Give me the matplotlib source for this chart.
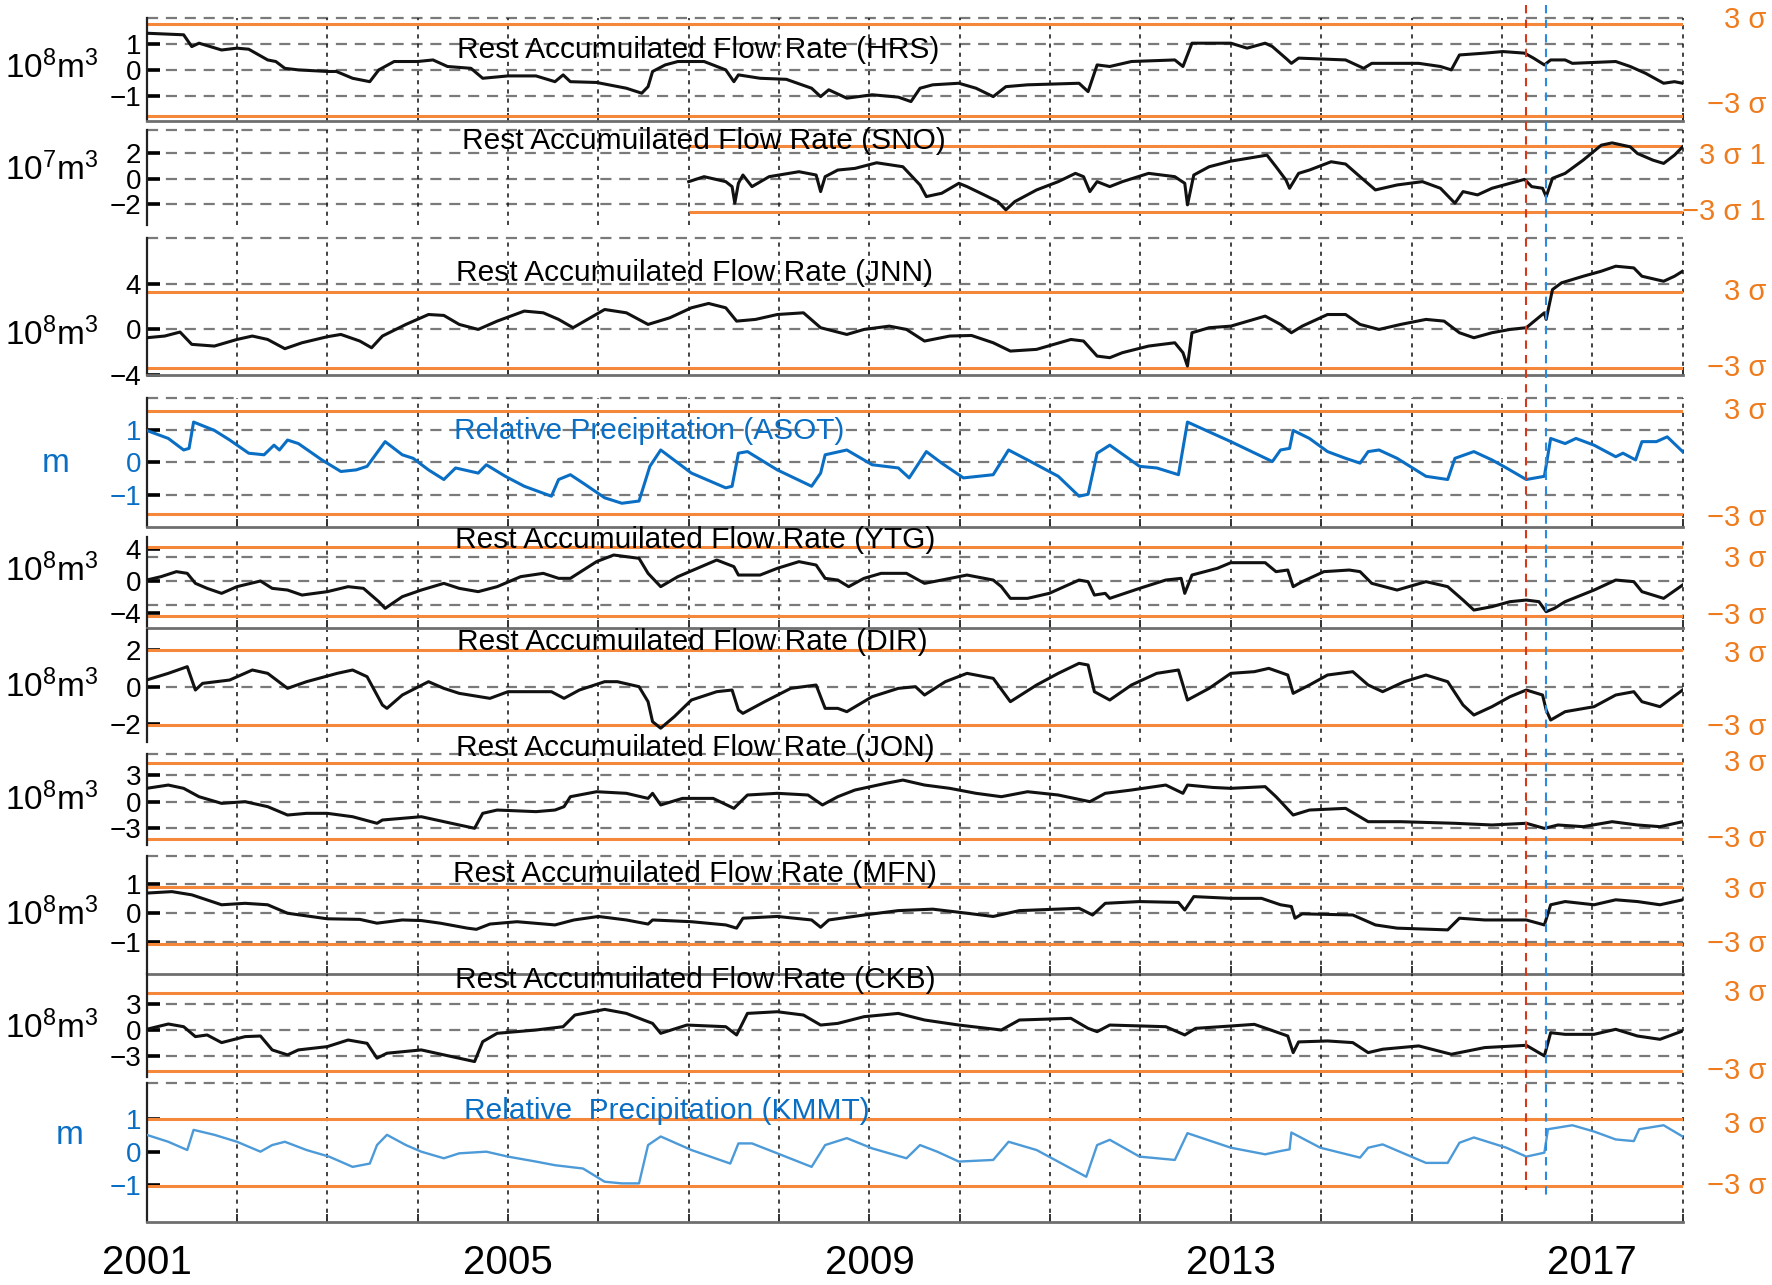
import matplotlib.pyplot as plt
from matplotlib.lines import Line2D
from matplotlib.transforms import blended_transform_factory as blend

plt.rcParams['font.family'] = ['Liberation Sans', 'DejaVu Sans']

# ---------------- data (decimal year, value) ----------------
hrs_t = [2001.0, 2001.41, 2001.5, 2001.58, 2001.83, 2002.0, 2002.13, 2002.34, 2002.43, 2002.53, 2002.68,
         2003.0, 2003.1, 2003.28, 2003.47, 2003.57, 2003.74, 2004.0, 2004.17, 2004.33, 2004.59, 2004.72,
         2005.0, 2005.31, 2005.52, 2005.61, 2005.69, 2005.98, 2006.31, 2006.48, 2006.55, 2006.6, 2006.74,
         2006.88, 2007.17, 2007.41, 2007.5, 2007.55, 2007.79, 2008.08, 2008.36, 2008.46, 2008.55, 2008.75,
         2009.03, 2009.32, 2009.46, 2009.56, 2009.7, 2009.99, 2010.18, 2010.37, 2010.51, 2010.75, 2011.32,
         2011.42, 2011.52, 2011.66, 2011.9, 2012.38, 2012.47, 2012.57, 2013.0, 2013.18, 2013.38, 2013.46,
         2013.63, 2013.67, 2013.75, 2014.27, 2014.47, 2014.56, 2015.08, 2015.32, 2015.44, 2015.53, 2015.81,
         2016.01, 2016.25, 2016.35, 2016.47, 2016.54, 2016.7, 2016.78, 2017.26, 2017.42, 2017.59, 2017.79,
         2017.91, 2018.0]
hrs_v = [1.40, 1.34, 0.89, 1.02, 0.76, 0.83, 0.79, 0.38, 0.32, 0.06, 0.0,
         -0.06, -0.06, -0.32, -0.45, 0.0, 0.32, 0.32, 0.38, 0.13, 0.06, -0.32,
         -0.23, -0.23, -0.45, -0.19, -0.45, -0.48, -0.70, -0.89, -0.64, -0.06, 0.19,
         0.32, 0.32, 0.0, -0.45, -0.19, -0.32, -0.36, -0.70, -1.02, -0.76, -1.08,
         -0.95, -1.04, -1.21, -0.70, -0.57, -0.51, -0.70, -1.02, -0.64, -0.57, -0.51,
         -0.83, 0.19, 0.13, 0.32, 0.38, 0.13, 1.02, 1.02, 0.83, 1.02, 0.89,
         0.38, 0.25, 0.45, 0.38, 0.06, 0.25, 0.25, 0.13, 0.0, 0.57, 0.64,
         0.70, 0.64, 0.45, 0.19, 0.38, 0.38, 0.25, 0.32, 0.13, -0.13, -0.51,
         -0.45, -0.51]

sno_t = [2007.0, 2007.17, 2007.41, 2007.48, 2007.51, 2007.55, 2007.6, 2007.7, 2007.89, 2008.22, 2008.41,
         2008.46, 2008.51, 2008.65, 2008.84, 2009.08, 2009.37, 2009.56, 2009.63, 2009.8, 2009.99, 2010.08,
         2010.27, 2010.42, 2010.51, 2010.61, 2010.85, 2011.09, 2011.28, 2011.37, 2011.44, 2011.52, 2011.66,
         2011.8, 2012.09, 2012.38, 2012.49, 2012.52, 2012.59, 2012.76, 2013.0, 2013.18, 2013.4, 2013.5,
         2013.61, 2013.65, 2013.75, 2013.87, 2014.11, 2014.27, 2014.43, 2014.6, 2014.84, 2015.12, 2015.32,
         2015.48, 2015.57, 2015.73, 2015.89, 2016.09, 2016.25, 2016.33, 2016.45, 2016.49, 2016.56, 2016.7,
         2016.9, 2017.1, 2017.22, 2017.42, 2017.5, 2017.67, 2017.79, 2017.91, 2018.0]
sno_v = [-0.21, 0.18, -0.21, -0.60, -1.90, -0.34, 0.31, -0.60, 0.18, 0.57, 0.31,
         -0.99, 0.18, 0.70, 0.83, 1.27, 0.96, -0.47, -1.38, -1.12, -0.34, -0.60,
         -1.25, -1.77, -2.42, -1.77, -0.86, -0.21, 0.44, 0.18, -0.99, -0.21, -0.60,
         -0.21, 0.44, 0.18, -0.34, -2.03, 0.31, 0.96, 1.40, 1.61, 1.87, 0.96,
         -0.08, -0.73, 0.44, 0.70, 1.35, 1.17, 0.18, -0.86, -0.47, -0.21, -0.73,
         -1.90, -0.99, -1.25, -0.73, -0.34, -0.03, -0.60, -0.73, -1.38, 0.05, 0.44,
         1.48, 2.65, 2.83, 2.52, 2.00, 1.48, 1.22, 1.87, 2.52]

jnn_t = [2001.0, 2001.2, 2001.37, 2001.5, 2001.75, 2002.0, 2002.17, 2002.34, 2002.53, 2002.72, 2003.0,
         2003.15, 2003.36, 2003.49, 2003.61, 2003.87, 2004.12, 2004.29, 2004.46, 2004.67, 2004.88, 2005.18,
         2005.39, 2005.56, 2005.72, 2006.07, 2006.31, 2006.55, 2006.79, 2007.03, 2007.22, 2007.41, 2007.53,
         2007.74, 2007.98, 2008.27, 2008.46, 2008.75, 2008.94, 2009.22, 2009.41, 2009.61, 2009.89, 2010.13,
         2010.37, 2010.56, 2010.85, 2011.23, 2011.37, 2011.52, 2011.66, 2011.8, 2012.09, 2012.38, 2012.47,
         2012.52, 2012.57, 2012.76, 2013.0, 2013.38, 2013.55, 2013.67, 2013.79, 2014.07, 2014.27, 2014.43,
         2014.64, 2014.88, 2015.16, 2015.36, 2015.53, 2015.69, 2015.89, 2016.09, 2016.27, 2016.47, 2016.49,
         2016.56, 2016.66, 2016.9, 2017.1, 2017.26, 2017.46, 2017.55, 2017.79, 2017.91, 2018.0]
jnn_v = [-0.73, -0.58, -0.23, -1.31, -1.46, -0.88, -0.58, -0.88, -1.69, -1.17, -0.64,
         -0.44, -1.02, -1.61, -0.58, 0.44, 1.31, 1.23, 0.44, 0.0, 0.73, 1.61,
         1.46, 0.88, 0.15, 1.75, 1.46, 0.44, 1.02, 1.90, 2.28, 1.90, 0.73,
         0.88, 1.31, 1.46, 0.15, -0.44, 0.0, 0.29, 0.0, -1.02, -0.58, -0.53,
         -1.17, -1.90, -1.75, -0.88, -1.02, -2.34, -2.48, -2.04, -1.46, -1.17, -2.04,
         -3.21, -0.29, 0.15, 0.29, 1.17, 0.44, -0.29, 0.29, 1.31, 1.31, 0.44,
         0.0, 0.44, 0.88, 0.73, -0.29, -0.73, -0.29, 0.0, 0.15, 1.46, 0.88,
         3.50, 4.09, 4.67, 5.11, 5.55, 5.40, 4.67, 4.23, 4.67, 5.11]

asot_t = [2001.0, 2001.24, 2001.41, 2001.47, 2001.52, 2001.75, 2001.92, 2002.13, 2002.3, 2002.41, 2002.47,
          2002.56, 2002.68, 2002.94, 2003.15, 2003.32, 2003.44, 2003.64, 2003.83, 2003.95, 2004.12, 2004.29,
          2004.42, 2004.67, 2004.76, 2004.97, 2005.18, 2005.48, 2005.56, 2005.69, 2005.83, 2006.07, 2006.26,
          2006.45, 2006.57, 2006.69, 2007.03, 2007.41, 2007.48, 2007.55, 2007.65, 2007.98, 2008.36, 2008.46,
          2008.51, 2008.75, 2009.03, 2009.32, 2009.44, 2009.63, 2009.8, 2010.04, 2010.37, 2010.54, 2010.75,
          2011.09, 2011.32, 2011.42, 2011.52, 2011.66, 2011.99, 2012.18, 2012.42, 2012.52, 2013.0, 2013.46,
          2013.55, 2013.65, 2013.69, 2013.87, 2014.07, 2014.27, 2014.43, 2014.52, 2014.64, 2014.84, 2015.16,
          2015.4, 2015.48, 2015.69, 2015.89, 2016.05, 2016.27, 2016.47, 2016.54, 2016.7, 2016.82, 2017.02,
          2017.26, 2017.34, 2017.48, 2017.55, 2017.71, 2017.83, 2018.0]
asot_v = [1.0, 0.75, 0.39, 0.44, 1.26, 1.0, 0.70, 0.29, 0.24, 0.54, 0.39,
          0.70, 0.59, 0.08, -0.28, -0.23, -0.12, 0.65, 0.24, 0.13, -0.23, -0.53,
          -0.17, -0.33, -0.07, -0.43, -0.74, -1.05, -0.53, -0.38, -0.64, -1.10, -1.27,
          -1.20, -0.12, 0.39, -0.33, -0.79, -0.74, 0.29, 0.34, -0.23, -0.74, -0.33,
          0.24, 0.39, -0.07, -0.17, -0.48, 0.34, -0.02, -0.48, -0.38, 0.39, 0.08,
          -0.43, -1.05, -0.99, 0.29, 0.54, -0.12, -0.17, -0.38, 1.26, 0.65, 0.03,
          0.39, 0.44, 1.0, 0.75, 0.34, 0.13, -0.02, 0.34, 0.39, 0.13, -0.43,
          -0.53, 0.13, 0.34, 0.08, -0.17, -0.53, -0.43, 0.75, 0.59, 0.75, 0.54,
          0.18, 0.29, 0.08, 0.65, 0.65, 0.80, 0.34]

ytg_t = [2001.0, 2001.16, 2001.33, 2001.45, 2001.54, 2001.67, 2001.83, 2002.0, 2002.26, 2002.39, 2002.56,
         2002.72, 2003.0, 2003.23, 2003.4, 2003.57, 2003.64, 2003.83, 2004.04, 2004.29, 2004.46, 2004.67,
         2004.88, 2005.14, 2005.39, 2005.56, 2005.69, 2005.98, 2006.17, 2006.45, 2006.55, 2006.62, 2006.69,
         2006.88, 2007.31, 2007.5, 2007.55, 2007.79, 2007.98, 2008.22, 2008.41, 2008.51, 2008.65, 2008.77,
         2008.94, 2009.13, 2009.41, 2009.61, 2009.8, 2010.08, 2010.37, 2010.46, 2010.56, 2010.75, 2010.99,
         2011.32, 2011.42, 2011.49, 2011.61, 2011.66, 2011.99, 2012.28, 2012.45, 2012.49, 2012.57, 2012.85,
         2013.0, 2013.38, 2013.5, 2013.63, 2013.69, 2013.79, 2014.03, 2014.31, 2014.43, 2014.56, 2014.84,
         2015.16, 2015.4, 2015.57, 2015.69, 2015.89, 2016.09, 2016.27, 2016.41, 2016.49, 2016.58, 2016.7,
         2017.02, 2017.26, 2017.46, 2017.55, 2017.79, 2018.0]
ytg_v = [0.12, 0.54, 1.16, 0.95, -0.29, -0.91, -1.53, -0.70, 0.0, -0.91, -1.12,
         -1.74, -1.32, -0.70, -0.91, -2.56, -3.39, -1.94, -1.12, -0.29, -0.91, -1.32,
         -0.70, 0.54, 0.95, 0.33, 0.33, 2.40, 3.22, 2.81, 0.95, 0.12, -0.70,
         0.54, 2.60, 1.78, 0.74, 0.74, 1.57, 2.40, 1.98, 0.33, 0.12, -0.70,
         0.33, 0.95, 0.95, -0.29, 0.12, 0.74, 0.12, -0.70, -2.15, -2.15, -1.53,
         0.12, -0.08, -1.74, -1.53, -2.15, -0.91, 0.12, 0.33, -1.53, 0.74, 1.57,
         2.27, 2.27, 1.16, 1.36, -0.70, -0.08, 1.16, 1.36, 1.16, -0.29, -1.12,
         -0.08, -0.70, -2.36, -3.60, -3.18, -2.56, -2.36, -2.56, -3.80, -3.39, -2.56,
         -1.12, 0.12, -0.08, -1.32, -2.15, -0.50]

dir_t = [2001.0, 2001.24, 2001.45, 2001.54, 2001.62, 2001.92, 2002.17, 2002.34, 2002.56, 2002.77, 2003.11,
         2003.28, 2003.44, 2003.61, 2003.66, 2003.83, 2004.12, 2004.29, 2004.46, 2004.8, 2005.0, 2005.22,
         2005.48, 2005.62, 2005.79, 2006.07, 2006.21, 2006.45, 2006.55, 2006.6, 2006.69, 2006.84, 2007.03,
         2007.31, 2007.48, 2007.55, 2007.6, 2007.84, 2008.13, 2008.41, 2008.51, 2008.65, 2008.75, 2009.03,
         2009.32, 2009.51, 2009.61, 2009.84, 2010.08, 2010.37, 2010.56, 2010.85, 2011.09, 2011.32, 2011.42,
         2011.49, 2011.66, 2011.9, 2012.18, 2012.42, 2012.52, 2012.76, 2013.0, 2013.26, 2013.42, 2013.63,
         2013.69, 2013.87, 2014.07, 2014.35, 2014.52, 2014.68, 2014.92, 2015.16, 2015.4, 2015.57, 2015.69,
         2015.89, 2016.09, 2016.27, 2016.45, 2016.49, 2016.54, 2016.7, 2017.02, 2017.26, 2017.46, 2017.55,
         2017.75, 2018.0]
dir_v = [0.36, 0.72, 1.08, -0.18, 0.18, 0.36, 0.90, 0.72, -0.09, 0.27, 0.72,
         0.90, 0.54, -0.99, -1.17, -0.45, 0.27, -0.09, -0.36, -0.63, -0.27, -0.27,
         -0.27, -0.63, -0.18, 0.27, 0.27, 0.0, -0.81, -1.89, -2.24, -1.62, -0.72,
         -0.27, -0.18, -1.26, -1.44, -0.81, -0.09, 0.09, -1.17, -1.17, -1.35, -0.54,
         -0.09, 0.0, -0.45, 0.27, 0.72, 0.45, -0.81, 0.09, 0.72, 1.26, 1.17,
         -0.27, -0.72, 0.09, 0.72, 0.90, -0.72, -0.09, 0.72, 0.81, 0.99, 0.63,
         -0.36, 0.09, 0.63, 0.81, 0.09, -0.27, 0.27, 0.63, 0.27, -0.99, -1.53,
         -1.08, -0.54, -0.18, -0.45, -1.26, -1.80, -1.35, -1.08, -0.45, -0.27, -0.81,
         -1.08, -0.18]

jon_t = [2001.0, 2001.24, 2001.41, 2001.58, 2001.83, 2002.09, 2002.34, 2002.56, 2002.77, 2003.0, 2003.28,
         2003.55, 2003.61, 2004.04, 2004.46, 2004.63, 2004.72, 2004.88, 2005.31, 2005.52, 2005.62, 2005.69,
         2005.98, 2006.31, 2006.55, 2006.6, 2006.69, 2006.93, 2007.27, 2007.5, 2007.65, 2007.98, 2008.32,
         2008.48, 2008.65, 2008.84, 2009.18, 2009.37, 2009.61, 2009.89, 2010.18, 2010.46, 2010.75, 2011.09,
         2011.44, 2011.61, 2011.9, 2012.28, 2012.47, 2012.52, 2012.8, 2013.0, 2013.38, 2013.5, 2013.69,
         2013.87, 2014.27, 2014.52, 2014.88, 2015.48, 2015.89, 2016.27, 2016.47, 2016.62, 2016.9, 2017.22,
         2017.5, 2017.75, 2018.0]
jon_v = [1.50, 1.87, 1.50, 0.56, -0.19, 0.0, -0.56, -1.50, -1.31, -1.31, -1.69,
         -2.43, -2.06, -1.69, -2.62, -2.99, -1.31, -0.94, -1.12, -0.94, -0.56, 0.56,
         1.12, 0.94, 0.37, 0.94, -0.37, 0.37, 0.37, -0.75, 0.75, 0.94, 0.75,
         -0.37, 0.56, 1.31, 2.06, 2.43, 1.87, 1.50, 0.94, 0.56, 1.12, 0.75,
         0.0, 0.94, 1.31, 1.87, 0.94, 1.87, 1.60, 1.50, 1.69, 0.56, -1.50,
         -0.94, -0.75, -2.25, -2.25, -2.43, -2.62, -2.43, -3.00, -2.62, -2.81, -2.25,
         -2.62, -2.81, -2.25]

mfn_t = [2001.0, 2001.28, 2001.5, 2001.83, 2002.09, 2002.34, 2002.56, 2002.77, 2003.0, 2003.36, 2003.55,
         2003.83, 2004.04, 2004.25, 2004.55, 2004.65, 2004.8, 2005.1, 2005.52, 2005.73, 2006.0, 2006.31,
         2006.55, 2006.6, 2007.03, 2007.41, 2007.53, 2007.6, 2007.98, 2008.36, 2008.46, 2008.55, 2008.94,
         2009.32, 2009.7, 2010.08, 2010.37, 2010.66, 2011.32, 2011.47, 2011.61, 2011.99, 2012.42, 2012.49,
         2012.59, 2013.0, 2013.34, 2013.55, 2013.67, 2013.71, 2013.79, 2014.35, 2014.6, 2014.84, 2015.4,
         2015.53, 2015.81, 2016.27, 2016.47, 2016.54, 2016.7, 2017.02, 2017.26, 2017.5, 2017.75, 2018.0]
mfn_v = [0.69, 0.74, 0.63, 0.29, 0.34, 0.29, 0.0, -0.09, -0.19, -0.21, -0.34,
         -0.23, -0.25, -0.34, -0.51, -0.55, -0.37, -0.29, -0.40, -0.23, -0.11, -0.23,
         -0.37, -0.23, -0.29, -0.40, -0.51, -0.17, -0.11, -0.23, -0.48, -0.23, -0.06,
         0.09, 0.14, 0.0, -0.11, 0.09, 0.17, -0.06, 0.34, 0.40, 0.37, 0.11,
         0.57, 0.51, 0.51, 0.29, 0.23, -0.17, -0.02, -0.06, -0.40, -0.51, -0.57,
         -0.17, -0.23, -0.23, -0.40, 0.29, 0.40, 0.29, 0.46, 0.40, 0.29, 0.46]

ckb_t = [2001.0, 2001.24, 2001.41, 2001.54, 2001.67, 2001.83, 2002.09, 2002.26, 2002.39, 2002.56, 2002.68,
         2003.0, 2003.23, 2003.44, 2003.55, 2003.66, 2004.04, 2004.29, 2004.63, 2004.72, 2004.88, 2005.31,
         2005.61, 2005.74, 2006.07, 2006.31, 2006.5, 2006.6, 2006.69, 2006.98, 2007.41, 2007.53, 2007.65,
         2007.98, 2008.27, 2008.46, 2008.65, 2008.94, 2009.32, 2009.61, 2009.99, 2010.46, 2010.66, 2011.23,
         2011.42, 2011.52, 2011.66, 2012.28, 2012.49, 2012.61, 2013.0, 2013.26, 2013.42, 2013.63, 2013.69,
         2013.75, 2014.07, 2014.35, 2014.52, 2014.68, 2015.08, 2015.44, 2015.81, 2016.27, 2016.47, 2016.54,
         2016.7, 2017.02, 2017.26, 2017.5, 2017.75, 2018.0]
ckb_v = [0.08, 0.69, 0.38, -0.76, -0.57, -1.45, -0.76, -0.69, -2.29, -2.86, -2.29,
         -1.91, -1.15, -1.53, -3.24, -2.67, -2.29, -2.86, -3.63, -1.34, -0.38, 0.0,
         0.38, 1.72, 2.37, 1.91, 1.15, 0.76, -0.38, 0.57, 0.38, -0.57, 1.91,
         2.10, 1.72, 0.57, 0.76, 1.53, 1.91, 1.15, 0.57, 0.0, 1.15, 1.34,
         0.19, -0.19, 0.57, 0.38, -0.57, 0.19, 0.46, 0.65, 0.08, -0.69, -2.60,
         -1.37, -1.26, -1.45, -2.60, -2.21, -1.83, -2.79, -2.02, -1.76, -2.98, -0.31,
         -0.50, -0.50, 0.08, -0.69, -1.07, -0.11]

kmmt_t = [2001.0, 2001.24, 2001.45, 2001.52, 2001.75, 2002.0, 2002.26, 2002.39, 2002.53, 2002.77, 2003.02,
          2003.28, 2003.47, 2003.55, 2003.66, 2003.87, 2004.04, 2004.29, 2004.46, 2004.76, 2005.0, 2005.31,
          2005.52, 2005.83, 2006.07, 2006.26, 2006.45, 2006.55, 2006.69, 2007.03, 2007.46, 2007.55, 2007.7,
          2007.98, 2008.36, 2008.51, 2008.75, 2009.03, 2009.41, 2009.56, 2009.75, 2009.99, 2010.37, 2010.54,
          2010.85, 2011.4, 2011.52, 2011.66, 2011.99, 2012.38, 2012.52, 2013.0, 2013.38, 2013.55, 2013.65,
          2013.67, 2013.99, 2014.43, 2014.52, 2014.68, 2015.16, 2015.4, 2015.53, 2015.69, 2016.05, 2016.27,
          2016.47, 2016.51, 2016.78, 2017.02, 2017.26, 2017.46, 2017.52, 2017.79, 2018.0]
kmmt_v = [0.51, 0.30, 0.05, 0.66, 0.51, 0.30, 0.0, 0.20, 0.30, 0.05, -0.15,
          -0.46, -0.36, 0.20, 0.51, 0.20, 0.0, -0.20, -0.05, 0.0, -0.15, -0.30,
          -0.41, -0.51, -0.91, -0.96, -0.96, 0.20, 0.46, 0.05, -0.36, 0.25, 0.25,
          -0.05, -0.46, 0.20, 0.41, 0.10, -0.20, 0.20, 0.0, -0.30, -0.25, 0.30,
          0.05, -0.76, 0.20, 0.36, -0.15, -0.25, 0.56, 0.12, -0.08, 0.02, 0.07,
          0.58, 0.12, -0.18, 0.12, 0.22, -0.34, -0.34, 0.27, 0.43, 0.12, -0.15,
          -0.03, 0.68, 0.80, 0.61, 0.37, 0.32, 0.68, 0.80, 0.46]

years = list(range(2001, 2019))
year_labels = ['2001', '2005', '2009', '2013', '2017']
quake_t = 2016.27   # red dashed marker
rain_t = 2016.49    # blue dashed marker
sno_start = 2007.0  # SNO record (and its 3 sigma band) begins here

# ---------------- styling ----------------
BLACK = '#111111'
BLUE = '#0a6fc4'
LBLUE = '#4c9ad8'
ORANGE = '#f5873a'
ORANGE_TXT = '#ee7c1e'
HGRID = dict(color='#7a7a7a', lw=1.6, dashes=(5, 3.5))
VGRID = dict(color='#222222', lw=1.2, dashes=(2.5, 3))

W, H = 1772, 1285
X0, X1 = 146.6, 1682.6
fig = plt.figure(figsize=(W / 100, H / 100), dpi=100)

UNIT8 = r'$\mathregular{10^8m^3}$'
UNIT7 = r'$\mathregular{10^7m^3}$'
RAF = 'Rest Accumuilated Flow Rate'

panels = [
    dict(t=hrs_t, v=hrs_v, c=BLACK, lw=2.2, title=RAF + ' (HRS)', tpos=(698, 50), unit=UNIT8, upos=(52, 68),
         box=(18.3, 120.7), ylim=(-1.94, 1.97), ticks=[-1, 0, 1], grid=[-1, 0, 1], sig=(1.77, -1.76),
         top=True, bottom=True, soff=(4, 11)),
    dict(t=sno_t, v=sno_v, c=BLACK, lw=2.2, title=RAF + ' (SNO)', tpos=(704, 141), unit=UNIT7, upos=(52, 170),
         box=(130, 225), ylim=(-3.61, 3.84), ticks=[-2, 0, 2], grid=[-2, 0, 2], sig=(2.61, -2.61),
         top=True, bottom=False, sig_from=sno_start, slabels=('3 σ 1', '−3 σ 1'), soff=(-10, 0)),
    dict(t=jnn_t, v=jnn_v, c=BLACK, lw=2.2, title=RAF + ' (JNN)', tpos=(695, 273), unit=UNIT8, upos=(52, 335),
         box=(238.3, 375), ylim=(-4.0, 8.0), ticks=[-4, 0, 4], grid=[0, 4], sig=(3.3, -3.35),
         top=True, bottom=True),
    dict(t=asot_t, v=asot_v, c=BLUE, lw=2.2, title='Relative Precipitation (ASOT)', tpos=(649, 431), unit='m',
         upos=(56, 463), box=(398.3, 526.7), ylim=(-2.0, 2.0), ticks=[-1, 0, 1], grid=[-1, 0, 1],
         sig=(1.6, -1.6), top=True, bottom=True, tc=BLUE, soff=(0, -4)),
    dict(t=ytg_t, v=ytg_v, c=BLACK, lw=2.2, title=RAF + ' (YTG)', tpos=(695, 540), unit=UNIT8, upos=(52, 571),
         box=(536.7, 628.3), ylim=(-5.86, 5.49), ticks=[-4, 0, 4], grid=[-3, 0, 3], sig=(4.25, -4.34),
         top=False, bottom=True, soff=(-12, 0)),
    dict(t=dir_t, v=dir_v, c=BLACK, lw=2.2, title=RAF + ' (DIR)', tpos=(692, 642), unit=UNIT8, upos=(52, 687),
         box=(630, 741.7), ylim=(-2.97, 3.06), ticks=[-2, 0, 2], grid=[0], sig=(1.98, -2.07),
         top=False, bottom=False, soff=(-4, -2)),
    dict(t=jon_t, v=jon_v, c=BLACK, lw=2.2, title=RAF + ' (JON)', tpos=(695, 748), unit=UNIT8, upos=(52, 800),
         box=(754, 845), ylim=(-4.87, 5.36), ticks=[-3, 0, 3], grid=[-3, 0, 3], sig=(4.3, -4.22),
         top=True, bottom=False),
    dict(t=mfn_t, v=mfn_v, c=BLACK, lw=2.2, title=RAF + ' (MFN)', tpos=(695, 874), unit=UNIT8, upos=(52, 915),
         box=(855.7, 974), ylim=(-2.08, 1.97), ticks=[-1, 0, 1], grid=[-1, 0, 1], sig=(0.9, -1.05),
         top=True, bottom=True, soff=(-3, 0)),
    dict(t=ckb_t, v=ckb_v, c=BLACK, lw=2.2, title=RAF + ' (CKB)', tpos=(695, 980), unit=UNIT8, upos=(52, 1028),
         box=(974, 1076.7), ylim=(-5.37, 6.44), ticks=[-3, 0, 3], grid=[-3, 0, 3], sig=(4.22, -4.68),
         top=False, bottom=False),
    dict(t=kmmt_t, v=kmmt_v, c=LBLUE, lw=1.7, title='Relative  Precipitation (KMMT)', tpos=(667, 1111), unit='m',
         upos=(70, 1136), box=(1083.3, 1221.7), ylim=(-2.12, 2.07), ticks=[-1, 0, 1], grid=[],
         sig=(1.0, -1.03), top=True, bottom=True, tc=BLUE, soff=(-6, 0)),
]

axes = []
for i, p in enumerate(panels):
    top, bot = p['box']
    ax = fig.add_axes([X0 / W, 1 - bot / H, (X1 - X0) / W, (bot - top) / H])
    axes.append(ax)
    ax.set_xlim(2001, 2018)
    ax.set_ylim(*p['ylim'])
    ax.patch.set_alpha(0)

    # grid
    for y in p['grid']:
        ax.axhline(y, zorder=1, **HGRID)
    if p['top']:
        ax.axhline(p['ylim'][1], zorder=1, clip_on=False, **HGRID)
    for yr in years[1:]:
        ax.axvline(yr, zorder=1, clip_on=False, **VGRID)

    # 3 sigma band
    x_from = p.get('sig_from', 2001)
    ax.hlines(p['sig'], x_from, 2018, color=ORANGE, lw=2.2, zorder=2)

    ax.plot(p['t'], p['v'], color=p['c'], lw=p['lw'], zorder=3, solid_joinstyle='round')

    # spines / ticks
    for s in ('top', 'right'):
        ax.spines[s].set_visible(False)
    ax.spines['left'].set_color('#222222')
    ax.spines['left'].set_linewidth(1.6)
    if p['bottom']:
        ax.spines['bottom'].set_color('#6f6f6f')
        ax.spines['bottom'].set_linewidth(2.0)
    else:
        ax.spines['bottom'].set_visible(False)
    tc = p.get('tc', 'black')
    ax.set_yticks(p['ticks'])
    ax.tick_params(axis='y', direction='in', length=9, width=2.6, color='black', pad=4,
                   labelsize=20, labelcolor=tc)
    ax.set_xticks(years)
    ax.tick_params(axis='x', direction='in', length=6 if p['bottom'] else 0, width=1.4,
                   color='#333333', labelbottom=False)

    # texts
    fig.text(p['tpos'][0] / W, 1 - p['tpos'][1] / H, p['title'], ha='center', va='center',
             fontsize=21.5, color=tc)
    ucol = BLUE if p['unit'] == 'm' else 'black'
    fig.text(p['upos'][0] / W, 1 - p['upos'][1] / H, p['unit'], ha='center', va='center',
             fontsize=24, color=ucol)
    lab_hi, lab_lo = p.get('slabels', ('3 σ', '−3 σ'))
    off_hi, off_lo = p.get('soff', (0, 0))
    tr = blend(fig.transFigure, ax.transData)
    for lab, yv, off in ((lab_hi, p['sig'][0], off_hi), (lab_lo, p['sig'][1], off_lo)):
        ax.annotate(lab, xy=(1766 / W, yv), xycoords=tr, xytext=(0, off), textcoords='offset pixels',
                    ha='right', va='center', fontsize=21, color=ORANGE_TXT, annotation_clip=False)

# x labels on the bottom panel only
axb = axes[-1]
axb.set_xticklabels([str(y) if str(y) in year_labels else '' for y in years])
axb.tick_params(axis='x', labelbottom=True, pad=16)
for lab in axb.get_xticklabels():
    lab.set_fontsize(29)

# event markers through all panels
trv = blend(axb.transData, fig.transFigure)
fig.add_artist(Line2D([quake_t, quake_t], [1 - 5 / H, 1 - 1190 / H], transform=trv,
                      color='#d5391a', lw=1.5, dashes=(4, 3)))
fig.add_artist(Line2D([rain_t, rain_t], [1 - 5 / H, 1 - 1195 / H], transform=trv,
                      color='#2a8be0', lw=1.5, dashes=(4, 3)))

fig.savefig('out.png', dpi=100)
